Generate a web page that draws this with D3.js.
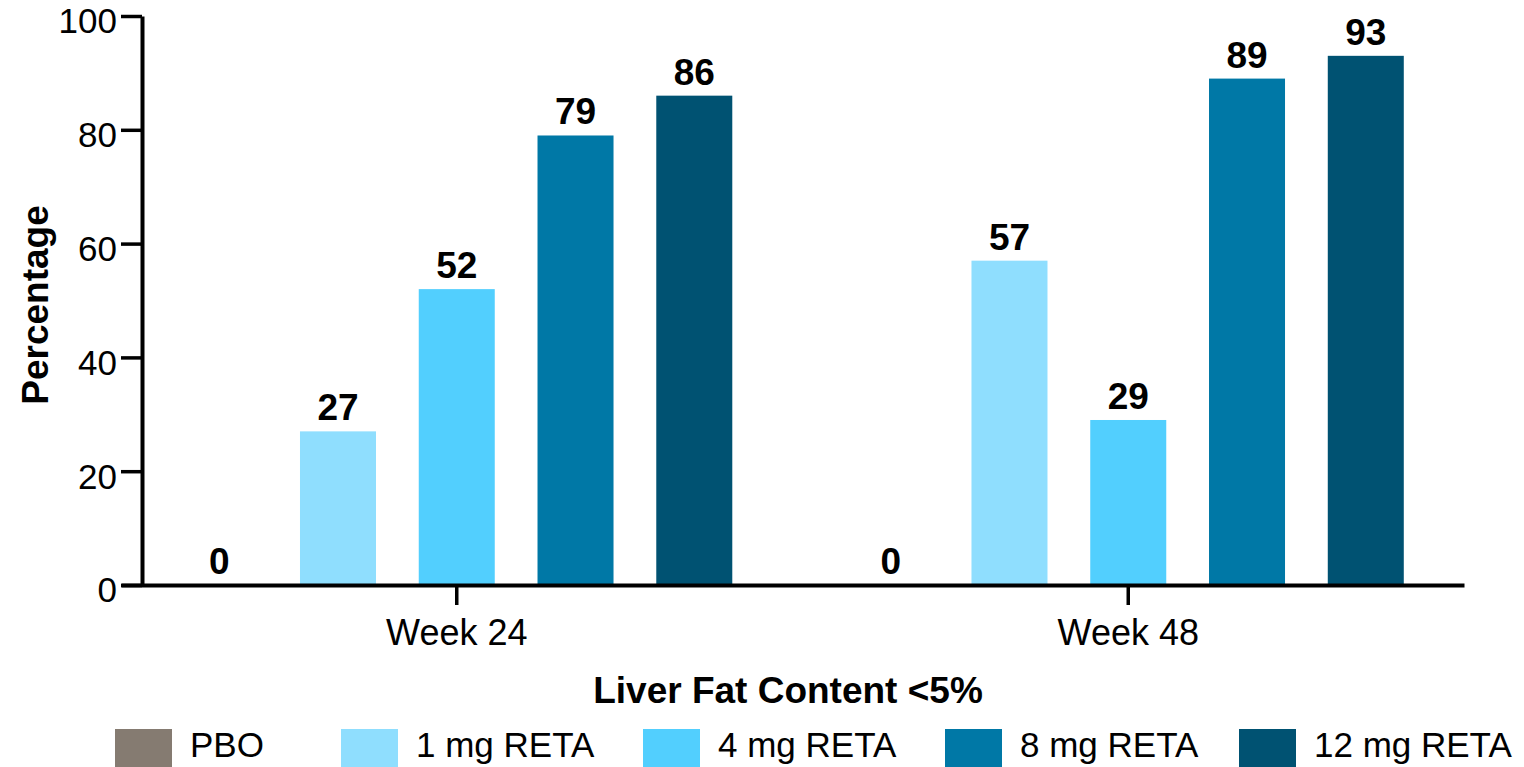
<!DOCTYPE html>
<html>
<head>
<meta charset="utf-8">
<script src="https://cdn.jsdelivr.net/npm/d3@7"></script>
<style>
  html, body { margin: 0; padding: 0; background: #fff; }
  svg { display: block; font-family: "Liberation Sans", Arial, sans-serif; }
</style>
</head>
<body>
<svg id="chart" width="1524" height="767"></svg>
<script>
// Share of participants reaching liver fat content <5%, by dose and visit
const weeks = ["Week 24", "Week 48"];
const arms = ["PBO", "1 mg RETA", "4 mg RETA", "8 mg RETA", "12 mg RETA"];
const week24 = [0, 27, 52, 79, 86];
const week48 = [0, 57, 29, 89, 93];
const yTicks = [0, 20, 40, 60, 80, 100];
const armColors = ["#857b71", "#8fdefe", "#52cffe", "#0078a6", "#005272"];

const valuesByWeek = [week24, week48];

const svg = d3.select("#chart");

const x0 = d3.scaleBand().domain(weeks).range([121, 1464]).paddingInner(0).paddingOuter(0);
const x1 = d3.scaleBand().domain(arms).range([0, x0.bandwidth()]).paddingInner(0.36).paddingOuter(0.507);
const y = d3.scaleLinear().domain([0, 100]).range([585, 16]);
const color = d3.scaleOrdinal().domain(arms).range(armColors);

// Bars
const groups = svg.append("g").selectAll("g")
  .data(weeks.map((w, i) => ({ week: w, values: valuesByWeek[i] })))
  .join("g")
  .attr("transform", d => `translate(${x0(d.week)},0)`);

const cells = groups.selectAll("g")
  .data(d => arms.map((a, j) => ({ arm: a, value: d.values[j] })))
  .join("g");

cells.append("rect")
  .attr("x", d => x1(d.arm))
  .attr("y", d => y(d.value))
  .attr("width", x1.bandwidth())
  .attr("height", d => y(0) - y(d.value))
  .attr("fill", d => color(d.arm));

cells.append("text")
  .attr("x", d => x1(d.arm) + x1.bandwidth() / 2)
  .attr("y", d => y(d.value) - 11)
  .attr("text-anchor", "middle")
  .attr("font-size", 37)
  .attr("font-weight", "bold")
  .attr("fill", "#000")
  .text(d => d.value);

// Y axis
const yAxis = svg.append("g")
  .attr("transform", "translate(142,0)")
  .call(d3.axisLeft(y).tickValues(yTicks).tickSize(21).tickPadding(4).tickSizeOuter(0));
yAxis.select(".domain").attr("stroke", "#000").attr("stroke-width", 4);
yAxis.selectAll(".tick line").attr("stroke", "#000").attr("stroke-width", 3.5);
yAxis.selectAll(".tick text")
  .attr("font-size", 35)
  .attr("font-family", "'Liberation Sans', Arial, sans-serif")
  .attr("fill", "#000")
  .attr("dy", "0.48em");

// X axis
const xAxis = svg.append("g")
  .attr("transform", `translate(0,${y(0)})`)
  .call(d3.axisBottom(x0).tickSize(20).tickPadding(14).tickSizeOuter(0));
xAxis.select(".domain").attr("stroke", "#000").attr("stroke-width", 4);
xAxis.selectAll(".tick line").attr("stroke", "#000").attr("stroke-width", 3.5);
xAxis.selectAll(".tick text")
  .attr("font-size", 36)
  .attr("font-family", "'Liberation Sans', Arial, sans-serif")
  .attr("fill", "#000");

// Axis titles
svg.append("text")
  .attr("transform", "translate(48,305) rotate(-90)")
  .attr("text-anchor", "middle")
  .attr("font-size", 37)
  .attr("font-weight", "bold")
  .attr("fill", "#000")
  .text("Percentage");

svg.append("text")
  .attr("x", 788)
  .attr("y", 703)
  .attr("text-anchor", "middle")
  .attr("font-size", 37)
  .attr("font-weight", "bold")
  .attr("fill", "#000")
  .text("Liver Fat Content <5%");

// Legend
const legendX = [115, 341, 643, 945, 1239];
const legend = svg.append("g").selectAll("g")
  .data(arms)
  .join("g")
  .attr("transform", (d, i) => `translate(${legendX[i]},729)`);

legend.append("rect")
  .attr("width", 57)
  .attr("height", 38)
  .attr("fill", d => color(d));

legend.append("text")
  .attr("x", 75)
  .attr("y", 28)
  .attr("font-size", 35)
  .attr("fill", "#000")
  .text(d => d);
</script>
</body>
</html>
